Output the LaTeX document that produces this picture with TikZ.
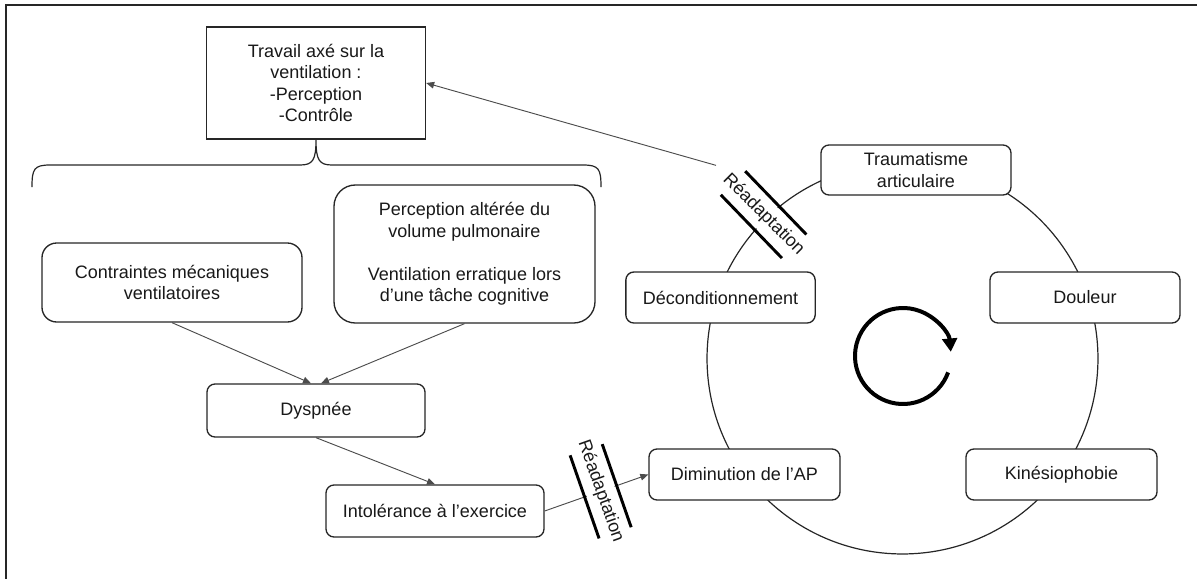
\documentclass[tikz,border=0pt]{standalone}
\usepackage{fontspec}
\setmainfont{Liberation Sans}
\usetikzlibrary{arrows.meta,calc}
\begin{document}
\begin{tikzpicture}[x=0.75pt,y=-0.75pt,
  every node/.style={font=\fontsize{13.5pt}{16.2pt}\selectfont, text=black!90},
  rbox/.style={draw=black!85, line width=1pt, fill=white, rounded corners=6pt, align=center, inner sep=0pt},
  sbox/.style={draw=black!85, line width=1pt, fill=white, align=center, inner sep=0pt},
  conn/.style={draw=black!70, line width=0.7pt, -{Triangle[length=6pt,width=5pt]}},
  bar/.style={line width=2.2pt, black},
  rlabel/.style={fill=white, inner sep=1pt, minimum height=22pt},
  frame/.style={line width=1.5pt, black!85},
  cyc/.style={line width=0.9pt, black!85}
]
\useasboundingbox (0,0) rectangle (1197,579);
% frame
\draw[frame] (1197,5) -- (6,5) -- (6,579);

% cycle circle
\coordinate (cc) at (902.5,358.5);
\draw[cyc] (cc) circle[radius=146.6pt];

% rotation arrow
\coordinate (rc) at (903,356);
\draw[line width=3pt, -{Triangle[length=10pt,width=11pt]}] ($(rc)+(20:48)$) arc[start angle=20, end angle=355, radius=48];

% left boxes
\node[sbox, minimum width=164.25pt, minimum height=84pt] (trav) at (316,83) {Travail axé sur la\\ventilation :\\-Perception\\-Contrôle};

\node[rbox, rounded corners=11pt, minimum width=195pt, minimum height=59.25pt] (contr) at (172,282.5) {Contraintes mécaniques\\ventilatoires};
\node[rbox, rounded corners=16pt, minimum width=195.75pt, minimum height=103.5pt] (perc) at (464.5,254) {Perception altérée du\\volume pulmonaire\\[16.2pt]Ventilation erratique lors\\d’une tâche cognitive};
\node[rbox, minimum width=163.5pt, minimum height=39.75pt] (dysp) at (316,410.5) {Dyspnée};
\node[rbox, minimum width=163.5pt, minimum height=39pt] (into) at (435,511) {Intolérance à l’exercice};

% cycle boxes
\node[rbox, minimum width=143.25pt, minimum height=38.25pt] (dimi) at (744.5,474.5) {Diminution de l’AP};
\node[rbox, minimum width=143.25pt, minimum height=38.25pt] (kine) at (1061.5,474.5) {Kinésiophobie};
\node[rbox, minimum width=142.5pt, minimum height=38.25pt] (doul) at (1085,297.5) {Douleur};
\node[rbox, minimum width=142pt, minimum height=38.25pt] (deco) at (720.5,297.5) {Déconditionnement};
\node[rbox, minimum width=142.5pt, minimum height=37.5pt] (trau) at (916,170) {Traumatisme\\articulaire};

% brace
\draw[line width=0.9pt, black!85] (32,187) .. controls (32,169) and (34,165) .. (50,165) -- (300,165) .. controls (313,165) and (316,160) .. (316,139.5) .. controls (316,160) and (319,165) .. (332,165) -- (583,165) .. controls (599,165) and (601,169) .. (601,187);

% connectors
\draw[conn] (contr.south) -- ([xshift=-3.75pt]dysp.north);
\draw[conn] (perc.south) -- ([xshift=3.75pt]dysp.north);
\draw[conn] (dysp.south) -- (into.north);
\draw[conn] (into.east) -- (dimi.west);

% upper readaptation marker
\coordinate (m1) at ($(cc)+(226:200)$);
\coordinate (ra) at ($(cc)+(226:268.5)$);
\draw[conn] (ra) -- (trav.east);
\node[rlabel, rotate=-45] (lab1) at (m1) {Réadaptation};
\draw[bar] ($(m1)+(316:17)+(226:44)$) -- ($(m1)+(316:17)+(46:44)$);
\draw[bar] ($(m1)+(136:17)+(226:44)$) -- ($(m1)+(136:17)+(46:44)$);

% lower readaptation marker
\path (into.east) -- (dimi.west) coordinate[pos=0.54] (m2);
\node[rlabel, rotate=-70.5] (lab2) at (m2) {Réadaptation};
\draw[bar] ($(m2)+(-19.2:17)+(70.8:44)$) -- ($(m2)+(-19.2:17)+(250.8:44)$);
\draw[bar] ($(m2)+(160.8:17)+(70.8:44)$) -- ($(m2)+(160.8:17)+(250.8:44)$);
\end{tikzpicture}
\end{document}
